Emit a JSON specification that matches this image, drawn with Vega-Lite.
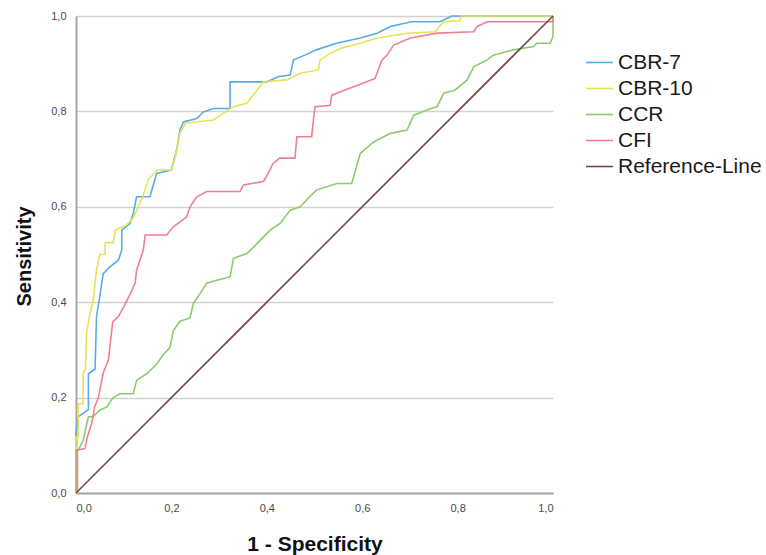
{
  "$schema": "https://vega.github.io/schema/vega-lite/v6.json",
  "width": 477,
  "height": 477,
  "autosize": {"type": "none"},
  "padding": {"left": 76, "top": 16, "right": 213, "bottom": 62},
  "background": "white",
  "config": {"view": {"stroke": null}, "font": "Liberation Sans"},
  "datasets": {
    "roc": [
      {"s": "CBR-7", "x": 0, "y": 0}, {"s": "CBR-7", "x": 0, "y": 0.128}, {"s": "CBR-7", "x": 0.005, "y": 0.16}, {"s": "CBR-7", "x": 0.026, "y": 0.175}, {"s": "CBR-7", "x": 0.026, "y": 0.25}, {"s": "CBR-7", "x": 0.04, "y": 0.26}, {"s": "CBR-7", "x": 0.043, "y": 0.37}, {"s": "CBR-7", "x": 0.048, "y": 0.4}, {"s": "CBR-7", "x": 0.057, "y": 0.46}, {"s": "CBR-7", "x": 0.071, "y": 0.474}, {"s": "CBR-7", "x": 0.089, "y": 0.488}, {"s": "CBR-7", "x": 0.096, "y": 0.51}, {"s": "CBR-7", "x": 0.096, "y": 0.551}, {"s": "CBR-7", "x": 0.113, "y": 0.565}, {"s": "CBR-7", "x": 0.12, "y": 0.586}, {"s": "CBR-7", "x": 0.127, "y": 0.621}, {"s": "CBR-7", "x": 0.155, "y": 0.621}, {"s": "CBR-7", "x": 0.169, "y": 0.67}, {"s": "CBR-7", "x": 0.2, "y": 0.677}, {"s": "CBR-7", "x": 0.211, "y": 0.719}, {"s": "CBR-7", "x": 0.218, "y": 0.761}, {"s": "CBR-7", "x": 0.225, "y": 0.778}, {"s": "CBR-7", "x": 0.253, "y": 0.785}, {"s": "CBR-7", "x": 0.267, "y": 0.799}, {"s": "CBR-7", "x": 0.288, "y": 0.806}, {"s": "CBR-7", "x": 0.323, "y": 0.806}, {"s": "CBR-7", "x": 0.323, "y": 0.862}, {"s": "CBR-7", "x": 0.4, "y": 0.862}, {"s": "CBR-7", "x": 0.425, "y": 0.873}, {"s": "CBR-7", "x": 0.449, "y": 0.876}, {"s": "CBR-7", "x": 0.456, "y": 0.908}, {"s": "CBR-7", "x": 0.48, "y": 0.918}, {"s": "CBR-7", "x": 0.504, "y": 0.929}, {"s": "CBR-7", "x": 0.546, "y": 0.943}, {"s": "CBR-7", "x": 0.596, "y": 0.954}, {"s": "CBR-7", "x": 0.631, "y": 0.964}, {"s": "CBR-7", "x": 0.659, "y": 0.978}, {"s": "CBR-7", "x": 0.704, "y": 0.988}, {"s": "CBR-7", "x": 0.763, "y": 0.988}, {"s": "CBR-7", "x": 0.788, "y": 1.0}, {"s": "CBR-7", "x": 1, "y": 1},
      {"s": "CBR-10", "x": 0, "y": 0}, {"s": "CBR-10", "x": 0, "y": 0.118}, {"s": "CBR-10", "x": 0.005, "y": 0.118}, {"s": "CBR-10", "x": 0.005, "y": 0.187}, {"s": "CBR-10", "x": 0.015, "y": 0.187}, {"s": "CBR-10", "x": 0.015, "y": 0.251}, {"s": "CBR-10", "x": 0.02, "y": 0.26}, {"s": "CBR-10", "x": 0.022, "y": 0.335}, {"s": "CBR-10", "x": 0.03, "y": 0.38}, {"s": "CBR-10", "x": 0.036, "y": 0.404}, {"s": "CBR-10", "x": 0.04, "y": 0.44}, {"s": "CBR-10", "x": 0.043, "y": 0.467}, {"s": "CBR-10", "x": 0.05, "y": 0.5}, {"s": "CBR-10", "x": 0.061, "y": 0.5}, {"s": "CBR-10", "x": 0.061, "y": 0.525}, {"s": "CBR-10", "x": 0.078, "y": 0.525}, {"s": "CBR-10", "x": 0.082, "y": 0.551}, {"s": "CBR-10", "x": 0.106, "y": 0.562}, {"s": "CBR-10", "x": 0.12, "y": 0.577}, {"s": "CBR-10", "x": 0.14, "y": 0.621}, {"s": "CBR-10", "x": 0.151, "y": 0.656}, {"s": "CBR-10", "x": 0.17, "y": 0.677}, {"s": "CBR-10", "x": 0.2, "y": 0.677}, {"s": "CBR-10", "x": 0.208, "y": 0.704}, {"s": "CBR-10", "x": 0.218, "y": 0.754}, {"s": "CBR-10", "x": 0.229, "y": 0.775}, {"s": "CBR-10", "x": 0.288, "y": 0.782}, {"s": "CBR-10", "x": 0.33, "y": 0.81}, {"s": "CBR-10", "x": 0.358, "y": 0.817}, {"s": "CBR-10", "x": 0.393, "y": 0.862}, {"s": "CBR-10", "x": 0.442, "y": 0.866}, {"s": "CBR-10", "x": 0.47, "y": 0.88}, {"s": "CBR-10", "x": 0.508, "y": 0.887}, {"s": "CBR-10", "x": 0.512, "y": 0.908}, {"s": "CBR-10", "x": 0.533, "y": 0.922}, {"s": "CBR-10", "x": 0.557, "y": 0.933}, {"s": "CBR-10", "x": 0.596, "y": 0.943}, {"s": "CBR-10", "x": 0.631, "y": 0.954}, {"s": "CBR-10", "x": 0.694, "y": 0.964}, {"s": "CBR-10", "x": 0.753, "y": 0.967}, {"s": "CBR-10", "x": 0.77, "y": 0.988}, {"s": "CBR-10", "x": 0.805, "y": 0.99}, {"s": "CBR-10", "x": 0.808, "y": 1.0}, {"s": "CBR-10", "x": 1, "y": 1},
      {"s": "CCR", "x": 0, "y": 0}, {"s": "CCR", "x": 0, "y": 0.09}, {"s": "CCR", "x": 0.005, "y": 0.09}, {"s": "CCR", "x": 0.015, "y": 0.11}, {"s": "CCR", "x": 0.026, "y": 0.16}, {"s": "CCR", "x": 0.036, "y": 0.16}, {"s": "CCR", "x": 0.05, "y": 0.174}, {"s": "CCR", "x": 0.064, "y": 0.18}, {"s": "CCR", "x": 0.078, "y": 0.2}, {"s": "CCR", "x": 0.092, "y": 0.208}, {"s": "CCR", "x": 0.12, "y": 0.208}, {"s": "CCR", "x": 0.127, "y": 0.236}, {"s": "CCR", "x": 0.148, "y": 0.25}, {"s": "CCR", "x": 0.169, "y": 0.27}, {"s": "CCR", "x": 0.183, "y": 0.29}, {"s": "CCR", "x": 0.197, "y": 0.305}, {"s": "CCR", "x": 0.204, "y": 0.34}, {"s": "CCR", "x": 0.218, "y": 0.36}, {"s": "CCR", "x": 0.239, "y": 0.367}, {"s": "CCR", "x": 0.246, "y": 0.397}, {"s": "CCR", "x": 0.26, "y": 0.418}, {"s": "CCR", "x": 0.274, "y": 0.44}, {"s": "CCR", "x": 0.295, "y": 0.446}, {"s": "CCR", "x": 0.323, "y": 0.453}, {"s": "CCR", "x": 0.33, "y": 0.492}, {"s": "CCR", "x": 0.358, "y": 0.502}, {"s": "CCR", "x": 0.372, "y": 0.515}, {"s": "CCR", "x": 0.393, "y": 0.537}, {"s": "CCR", "x": 0.407, "y": 0.551}, {"s": "CCR", "x": 0.428, "y": 0.565}, {"s": "CCR", "x": 0.449, "y": 0.593}, {"s": "CCR", "x": 0.47, "y": 0.6}, {"s": "CCR", "x": 0.49, "y": 0.621}, {"s": "CCR", "x": 0.504, "y": 0.635}, {"s": "CCR", "x": 0.547, "y": 0.649}, {"s": "CCR", "x": 0.578, "y": 0.649}, {"s": "CCR", "x": 0.596, "y": 0.712}, {"s": "CCR", "x": 0.624, "y": 0.736}, {"s": "CCR", "x": 0.659, "y": 0.754}, {"s": "CCR", "x": 0.694, "y": 0.761}, {"s": "CCR", "x": 0.708, "y": 0.792}, {"s": "CCR", "x": 0.736, "y": 0.803}, {"s": "CCR", "x": 0.757, "y": 0.81}, {"s": "CCR", "x": 0.771, "y": 0.838}, {"s": "CCR", "x": 0.795, "y": 0.845}, {"s": "CCR", "x": 0.82, "y": 0.866}, {"s": "CCR", "x": 0.834, "y": 0.894}, {"s": "CCR", "x": 0.862, "y": 0.908}, {"s": "CCR", "x": 0.875, "y": 0.918}, {"s": "CCR", "x": 0.917, "y": 0.929}, {"s": "CCR", "x": 0.959, "y": 0.936}, {"s": "CCR", "x": 0.966, "y": 0.943}, {"s": "CCR", "x": 0.994, "y": 0.943}, {"s": "CCR", "x": 1, "y": 0.957}, {"s": "CCR", "x": 1, "y": 1},
      {"s": "CFI", "x": 0, "y": 0}, {"s": "CFI", "x": 0.003, "y": 0.0}, {"s": "CFI", "x": 0.003, "y": 0.09}, {"s": "CFI", "x": 0.019, "y": 0.093}, {"s": "CFI", "x": 0.024, "y": 0.118}, {"s": "CFI", "x": 0.033, "y": 0.146}, {"s": "CFI", "x": 0.039, "y": 0.18}, {"s": "CFI", "x": 0.047, "y": 0.2}, {"s": "CFI", "x": 0.057, "y": 0.251}, {"s": "CFI", "x": 0.068, "y": 0.279}, {"s": "CFI", "x": 0.077, "y": 0.359}, {"s": "CFI", "x": 0.089, "y": 0.37}, {"s": "CFI", "x": 0.1, "y": 0.39}, {"s": "CFI", "x": 0.114, "y": 0.418}, {"s": "CFI", "x": 0.124, "y": 0.44}, {"s": "CFI", "x": 0.127, "y": 0.467}, {"s": "CFI", "x": 0.141, "y": 0.509}, {"s": "CFI", "x": 0.145, "y": 0.541}, {"s": "CFI", "x": 0.19, "y": 0.541}, {"s": "CFI", "x": 0.204, "y": 0.558}, {"s": "CFI", "x": 0.232, "y": 0.579}, {"s": "CFI", "x": 0.239, "y": 0.6}, {"s": "CFI", "x": 0.253, "y": 0.621}, {"s": "CFI", "x": 0.274, "y": 0.632}, {"s": "CFI", "x": 0.344, "y": 0.632}, {"s": "CFI", "x": 0.351, "y": 0.646}, {"s": "CFI", "x": 0.393, "y": 0.653}, {"s": "CFI", "x": 0.403, "y": 0.67}, {"s": "CFI", "x": 0.413, "y": 0.691}, {"s": "CFI", "x": 0.427, "y": 0.702}, {"s": "CFI", "x": 0.459, "y": 0.702}, {"s": "CFI", "x": 0.463, "y": 0.747}, {"s": "CFI", "x": 0.494, "y": 0.747}, {"s": "CFI", "x": 0.498, "y": 0.785}, {"s": "CFI", "x": 0.501, "y": 0.81}, {"s": "CFI", "x": 0.533, "y": 0.813}, {"s": "CFI", "x": 0.536, "y": 0.834}, {"s": "CFI", "x": 0.564, "y": 0.845}, {"s": "CFI", "x": 0.596, "y": 0.857}, {"s": "CFI", "x": 0.627, "y": 0.869}, {"s": "CFI", "x": 0.641, "y": 0.907}, {"s": "CFI", "x": 0.652, "y": 0.918}, {"s": "CFI", "x": 0.666, "y": 0.939}, {"s": "CFI", "x": 0.701, "y": 0.954}, {"s": "CFI", "x": 0.757, "y": 0.964}, {"s": "CFI", "x": 0.834, "y": 0.967}, {"s": "CFI", "x": 0.841, "y": 0.978}, {"s": "CFI", "x": 0.862, "y": 0.988}, {"s": "CFI", "x": 1, "y": 0.988}, {"s": "CFI", "x": 1, "y": 1},
      {"s": "Reference-Line", "x": 0, "y": 0}, {"s": "Reference-Line", "x": 1, "y": 1}
    ]
  },
  "data": {"name": "roc"},
  "mark": {"type": "line", "strokeWidth": 1.6, "interpolate": "linear"},
  "encoding": {
    "x": {
      "field": "x", "type": "quantitative",
      "scale": {"domain": [0, 1], "nice": false, "zero": false},
      "axis": {
        "title": "1 - Specificity", "titleFontSize": 21, "titleFontWeight": "bold", "titleColor": "#111",
        "titleY": 57, "titleBaseline": "alphabetic",
        "values": [0, 0.2, 0.4, 0.6, 0.8, 1.0],
        "labelExpr": "replace(format(datum.value, '.1f'), '.', ',')",
        "labelFontSize": 11, "labelColor": "#4a4a4a", "labelPadding": 9, "labelFont": "Liberation Sans",
        "ticks": false, "grid": false,
        "domainColor": "#a8a8a8", "domainWidth": 2
      }
    },
    "y": {
      "field": "y", "type": "quantitative",
      "scale": {"domain": [0, 1], "nice": false, "zero": false},
      "axis": {
        "title": "Sensitivity", "titleFontSize": 20, "titleFontWeight": "bold", "titleColor": "#111",
        "titleX": -46, "titleY": 240, "titleBaseline": "alphabetic", "titleAngle": -90, "titleAlign": "center",
        "values": [0, 0.2, 0.4, 0.6, 0.8, 1.0],
        "labelExpr": "replace(format(datum.value, '.1f'), '.', ',')",
        "labelFontSize": 11, "labelColor": "#4a4a4a", "labelPadding": 10, "labelFont": "Liberation Sans",
        "ticks": false, "grid": true, "gridColor": "#d2d2d2", "gridWidth": 1.5,
        "domainColor": "#a8a8a8", "domainWidth": 2
      }
    },
    "color": {
      "field": "s", "type": "nominal",
      "scale": {
        "domain": ["CBR-7", "CBR-10", "CCR", "CFI", "Reference-Line"],
        "range": ["#58ace6", "#e4e454", "#8ccb6c", "#f0808e", "#7a4848"]
      },
      "legend": {
        "title": null, "orient": "none", "legendX": 509, "legendY": 32,
        "symbolType": "stroke", "symbolSize": 729, "symbolStrokeWidth": 1.6,
        "labelFontSize": 21, "labelColor": "#1a1a1a", "labelOffset": 4, "rowPadding": 1,
        "labelLimit": 300, "padding": 0
      }
    },
    "order": [{"field": "x", "type": "quantitative"}, {"field": "y", "type": "quantitative"}]
  }
}
